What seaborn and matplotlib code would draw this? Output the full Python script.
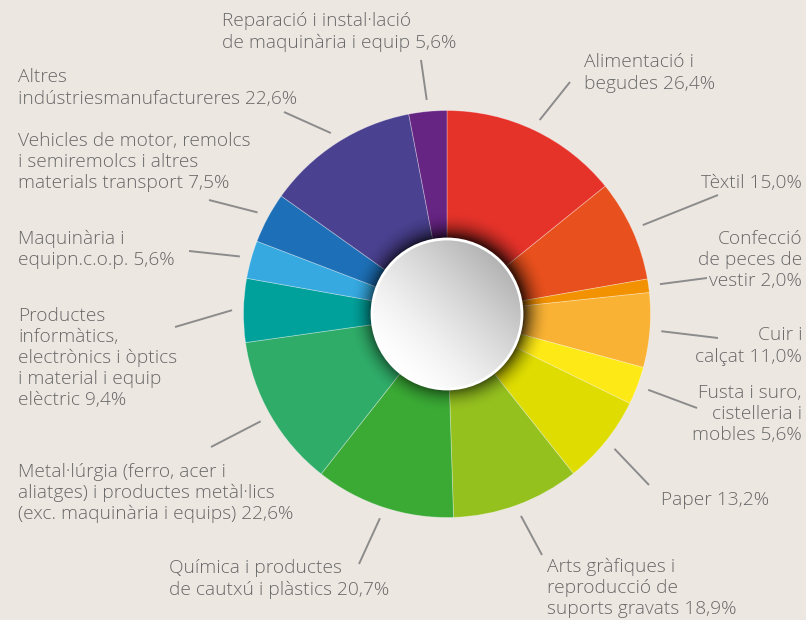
import numpy as np
import matplotlib
matplotlib.use("Agg")
import matplotlib.pyplot as plt
import seaborn as sns
from matplotlib.patches import Circle

# data
sectors = [
    "Alimentació i\nbegudes",
    "Tèxtil",
    "Confecció\nde peces de\nvestir",
    "Cuir i\ncalçat",
    "Fusta i suro,\ncistelleria i\nmobles",
    "Paper",
    "Arts gràfiques i\nreproducció de\nsuports gravats",
    "Química i productes\nde cautxú i plàstics",
    "Metal·lúrgia (ferro, acer i\naliatges) i productes metàl·lics\n(exc. maquinària i equips)",
    "Productes\ninformàtics,\nelectrònics i òptics\ni material i equip\nelèctric",
    "Maquinària i\nequipn.c.o.p.",
    "Vehicles de motor, remolcs\ni semiremolcs i altres\nmaterials transport",
    "Altres\nindústriesmanufactureres",
    "Reparació i instal·lació\nde maquinària i equip",
]
values = [26.4, 15.0, 2.0, 11.0, 5.6, 13.2, 18.9, 20.7, 22.6, 9.4, 5.6, 7.5, 22.6, 5.6]
colors = ["#e6332a", "#e8501d", "#f39200", "#f9b234", "#fde916", "#dedc00", "#95c11f",
          "#3aaa35", "#2fac68", "#00a19a", "#36a9e1", "#1d70b7", "#4a4190", "#662483"]

# layout (image pixel coords): label anchor, alignment, outer end of leader line
label_xy = [(584, 73), (802, 183), (802, 260), (802, 346), (802, 414), (661, 500), (547, 588),
            (169, 579), (18, 493), (18, 358), (18, 249), (18, 162), (18, 88), (222, 32)]
label_ha = ["left", "right", "right", "right", "right", "left", "left",
            "left", "left", "left", "left", "left", "left", "left"]
leader_end = [(570, 82), (718, 195), (707, 278), (718, 338), (697, 408), (649, 485), (542, 555),
              (359, 564), (211, 447), (175, 327), (189, 251), (209, 200), (284, 112), (421, 60)]

sns.set_theme(style="white")
plt.rcParams["font.family"] = ["Open Sans", "DejaVu Sans"]

W, H = 806, 620
bg = "#ede7e2"
txt_color = "#686868"
fig = plt.figure(figsize=(W / 100, H / 100), dpi=100)
fig.patch.set_facecolor(bg)
ax = fig.add_axes([0, 0, 1, 1])
ax.set_facecolor(bg)

cx, cy, R = 447, 314, 203.5
wedges, _ = ax.pie(values, colors=colors, startangle=-90, counterclock=True,
                   radius=R, center=(cx, cy),
                   wedgeprops=dict(width=R - 60, edgecolor=(1, 1, 1, 0.35), linewidth=0.6))

# shadow around the centre disc
r_disc = 75
n = 400
gx = np.linspace(cx - R, cx + R, n)
gy = np.linspace(cy - R, cy + R, n)
X, Y = np.meshgrid(gx, gy)
d = np.hypot(X - (cx + 2), Y - (cy - 2))
a = np.clip(1 - (d - r_disc) / 27, 0, 1) ** 2.2 * 0.72
shadow = np.zeros((n, n, 4))
shadow[..., 3] = a
im = ax.imshow(shadow, extent=(gx[0], gx[-1], gy[-1], gy[0]), origin="upper",
               interpolation="bilinear", zorder=3)
im.set_clip_path(Circle((cx, cy), R, transform=ax.transData))

# centre disc with a grey gradient
m = 300
dx = np.linspace(cx - r_disc, cx + r_disc, m)
dy = np.linspace(cy - r_disc, cy + r_disc, m)
DX, DY = np.meshgrid(dx, dy)
t = ((DX - cx) - (DY - cy)) / (np.sqrt(2) * r_disc)
t = np.clip((t + 1) / 2, 0, 1)
v = 1 - 0.30 * t ** 1.4
disc = np.dstack([v, v, v])
im2 = ax.imshow(disc, extent=(dx[0], dx[-1], dy[-1], dy[0]), origin="upper",
                interpolation="bilinear", zorder=4)
im2.set_clip_path(Circle((cx, cy), r_disc, transform=ax.transData))
ax.add_patch(Circle((cx, cy), r_disc, facecolor="none", edgecolor="white", lw=2, zorder=5))

# labels and leader lines
r_in = 215
for w, name, val, (lx, ly), ha, (ex, ey) in zip(wedges, sectors, values, label_xy, label_ha, leader_end):
    mid = np.deg2rad((w.theta1 + w.theta2) / 2)
    sx, sy = cx + r_in * np.cos(mid), cy + r_in * np.sin(mid)
    ax.plot([sx, ex], [sy, ey], color="#8c8c8c", lw=1.4, solid_capstyle="butt", zorder=2)
    pct = f"{val:.1f}".replace(".", ",")
    ax.text(lx, ly, f"{name} {pct}%", ha=ha, va="center", fontsize=13.8, color=txt_color,
            fontweight="light", linespacing=1.22)

ax.set_xlim(0, W)
ax.set_ylim(H, 0)
ax.set_aspect("equal")
ax.axis("off")

fig.savefig("out.png", dpi=100, facecolor=bg)
